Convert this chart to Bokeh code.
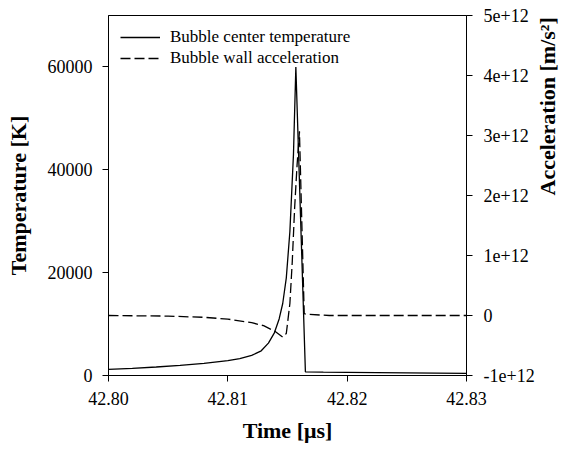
import math
from bokeh.plotting import figure
from bokeh.models import Range1d, LinearAxis, FixedTicker, Legend, LegendItem, PrintfTickFormatter
from bokeh.embed import file_html
from bokeh.resources import INLINE

# ---- data ----
time_temp = [42.800, 42.802, 42.804, 42.806, 42.808, 42.810, 42.811, 42.812, 42.8128,
             42.8134, 42.8139, 42.8143, 42.8146, 42.8149, 42.8152, 42.8155, 42.8157,
             42.8165, 42.818, 42.820, 42.825, 42.830]
temperature = [1200, 1400, 1650, 1950, 2350, 2900, 3300, 3900, 4800,
               6300, 8300, 11000, 14000, 19000, 28000, 43000, 60000,
               700, 650, 600, 500, 400]

time_acc = [42.800, 42.805, 42.808, 42.810, 42.812, 42.813, 42.814, 42.8146,
            42.8149, 42.8152, 42.8154, 42.8156, 42.8158, 42.8160, 42.8164,
            42.8166, 42.8185, 42.830]
acceleration = [0.0, -0.01e12, -0.03e12, -0.06e12, -0.12e12, -0.17e12, -0.27e12, -0.36e12,
                -0.30e12, 0.2e12, 0.9e12, 1.8e12, 2.5e12, 3.07e12, 0.03e12,
                0.02e12, 0.0, 0.0]

x_ticks = [42.80, 42.81, 42.82, 42.83]
temp_ticks = [0, 20000, 40000, 60000]
acc_ticks = [-1e12, 0, 1e12, 2e12, 3e12, 4e12, 5e12]
acc_tick_labels = ["-1e+12", "0", "1e+12", "2e+12", "3e+12", "4e+12", "5e+12"]

series_names = ["Bubble center temperature", "Bubble wall acceleration"]
x_title = "Time [μs]"
y_title = "Temperature [K]"
y2_title = "Acceleration [m/s²]"

FONT = "Liberation Serif"

p = figure(width=575, height=450, x_range=Range1d(42.80, 42.83), y_range=Range1d(0, 70000),
           output_backend="svg", toolbar_location=None,
           min_border_left=108, min_border_right=108, min_border_top=15, min_border_bottom=75)
p.extra_y_ranges = {"acc": Range1d(-1e12, 5e12)}

p.outline_line_color = "black"
p.outline_line_width = 1
p.xgrid.visible = False
p.ygrid.visible = False
p.background_fill_color = "white"
p.border_fill_color = "white"

r1 = p.line(time_temp, temperature, line_color="black", line_width=1.3)
r2 = p.line(time_acc, acceleration, line_color="black", line_width=1.3,
            line_dash="10 4", y_range_name="acc")

right_axis = LinearAxis(y_range_name="acc")
p.add_layout(right_axis, "right")

xa = p.xaxis[0]
ya = p.yaxis[0]
xa.ticker = FixedTicker(ticks=x_ticks)
xa.formatter = PrintfTickFormatter(format="%.2f")
ya.ticker = FixedTicker(ticks=temp_ticks)
right_axis.ticker = FixedTicker(ticks=acc_ticks)
right_axis.major_label_overrides = {float(k): v for k, v in zip(acc_ticks, acc_tick_labels)}

xa.axis_label = x_title
ya.axis_label = y_title
right_axis.axis_label = y2_title

for ax in (xa, ya, right_axis):
    ax.axis_line_color = "black"
    ax.major_tick_line_color = "black"
    ax.major_tick_out = 6
    ax.major_tick_in = 0
    ax.minor_tick_line_color = None
    ax.major_label_text_font = FONT
    ax.major_label_text_font_size = "18px"
    ax.major_label_text_color = "black"
    ax.axis_label_text_font = FONT
    ax.axis_label_text_font_size = "22px"
    ax.axis_label_text_font_style = "bold"
    ax.axis_label_text_color = "black"
    ax.major_label_standoff = 10

xa.axis_label_standoff = 10
ya.axis_label_standoff = 14
right_axis.major_label_standoff = 11
right_axis.axis_label_standoff = 10
try:
    right_axis.axis_label_orientation = math.pi / 2
except Exception:
    pass

legend = Legend(items=[LegendItem(label=series_names[0], renderers=[r1]),
                       LegendItem(label=series_names[1], renderers=[r2])],
                location="top_left")
legend.label_text_font = FONT
legend.label_text_font_size = "17px"
legend.label_text_color = "black"
legend.border_line_color = None
legend.background_fill_alpha = 0
legend.margin = 12
legend.padding = 0
legend.spacing = 1
legend.glyph_width = 40
legend.glyph_height = 20
legend.label_height = 20
legend.label_standoff = 10
p.add_layout(legend)

open("out.html", "w").write(file_html(p, INLINE))
